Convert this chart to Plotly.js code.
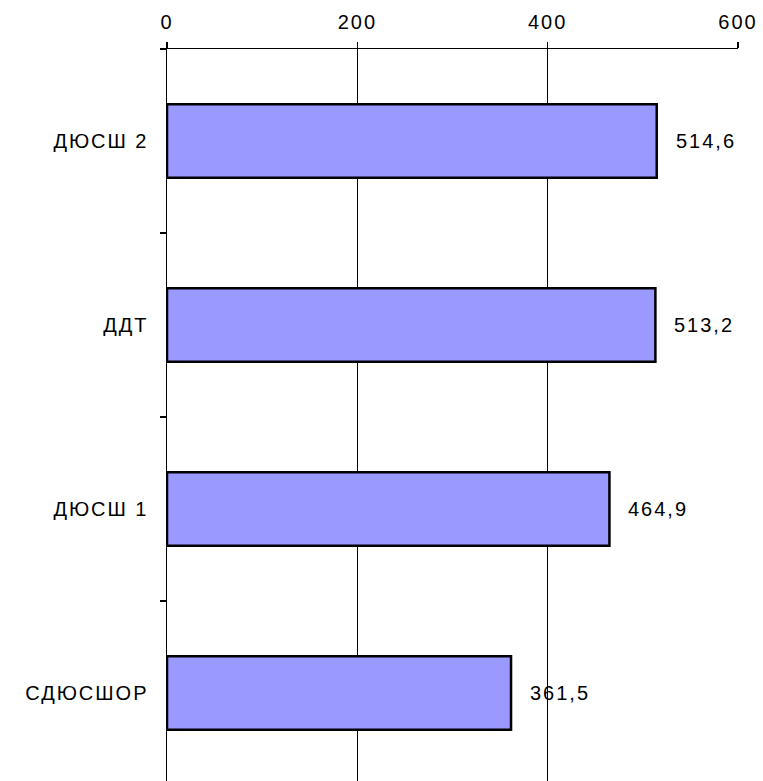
<!DOCTYPE html>
<html><head><meta charset="utf-8">
<script src="https://cdn.plot.ly/plotly-3.0.1.min.js"></script>
<style>html,body{margin:0;padding:0;background:#fff}#chart{width:763px;height:781px}#chart svg text{letter-spacing:2px}</style>
</head><body><div id="chart"></div>
<script>
const categories = ["ДЮСШ 2", "ДДТ", "ДЮСШ 1", "СДЮСШОР"];
const values = [514.6, 513.2, 464.9, 361.5];
const valueLabels = ["514,6", "513,2", "464,9", "361,5"];
const xTicks = [0, 200, 400, 600];

const font = {family: "Liberation Sans, Arial, sans-serif", size: 20, color: "#000"};

const trace = {
  type: "bar", orientation: "h",
  x: values, y: categories,
  width: 0.4,
  marker: {color: "#9999FF", line: {color: "#000", width: 2.5}},
  hoverinfo: "none"
};

const annotations = values.map((v, i) => ({
  x: v, y: categories[i], xref: "x", yref: "y",
  text: valueLabels[i], showarrow: false,
  xanchor: "left", yanchor: "middle", xshift: 22,
  font: font
}));

const layout = {
  width: 763, height: 781,
  margin: {l: 167, r: 25, t: 49, b: 0, pad: 0},
  paper_bgcolor: "#fff", plot_bgcolor: "#fff",
  showlegend: false,
  font: font,
  xaxis: {
    side: "top", range: [0, 600], tickvals: xTicks, ticktext: xTicks.map(String),
    showgrid: true, gridcolor: "#000", gridwidth: 1.5,
    showline: true, linecolor: "#000", linewidth: 1.5,
    ticks: "outside", ticklen: 6, tickcolor: "#000", tickwidth: 1.5,
    zeroline: false, tickfont: font, ticklabelstandoff: 5, fixedrange: true
  },
  yaxis: {
    type: "category", categoryorder: "array", categoryarray: categories,
    range: [3.478, -0.5],
    showgrid: false, zeroline: false,
    showline: true, linecolor: "#000", linewidth: 1.5,
    ticks: "outside", tickson: "boundaries", ticklen: 6, tickcolor: "#000", tickwidth: 1.5,
    tickfont: font, ticklabelstandoff: 13, fixedrange: true
  },
  annotations: annotations
};

Plotly.newPlot("chart", [trace], layout, {displayModeBar: false, staticPlot: true});
</script></body></html>
